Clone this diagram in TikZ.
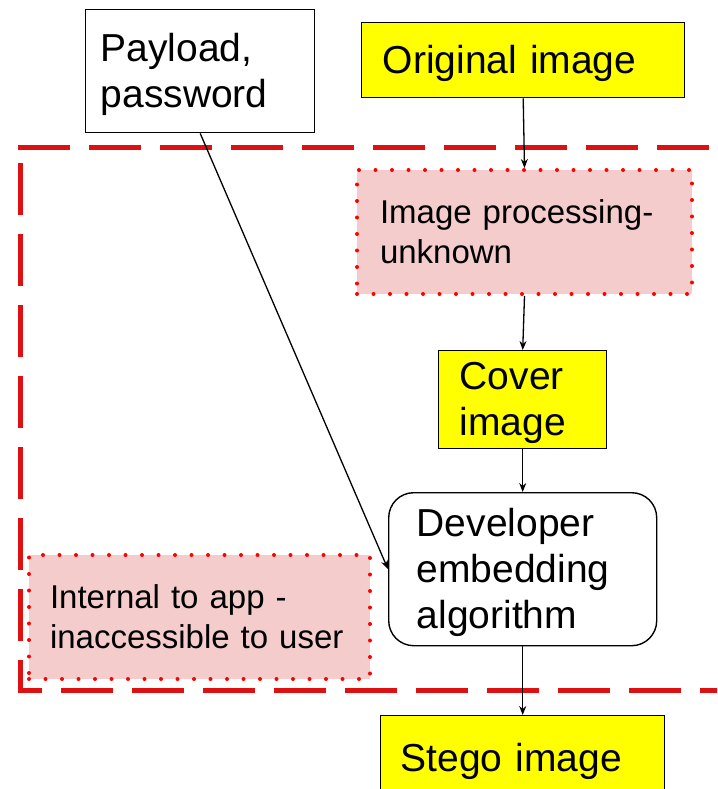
\documentclass[tikz,border=0pt]{standalone}
\usepackage{fontspec}
\setmainfont{Liberation Sans}
\usetikzlibrary{arrows.meta}
\definecolor{ylw}{HTML}{FFFF00}
\definecolor{pinkfill}{HTML}{F4CCCC}
\definecolor{framered}{HTML}{DD1111}
\tikzset{
 bigtext/.style={font=\fontsize{39}{46}\selectfont, execute at end node={\vspace*{-7pt}}},
 smalltext/.style={font=\fontsize{33}{40}\selectfont},
 plainbox/.style={draw=black, line width=1.4pt, anchor=north west, align=left, inner ysep=0pt},
 yellowbox/.style={plainbox, fill=ylw},
 pinkbox/.style={anchor=north west, align=left, inner ysep=0pt, fill=pinkfill, draw=red, line width=4pt, dash pattern=on 0pt off 16.5pt, line cap=round},
 arr/.style={-{Stealth[length=9pt,width=7pt]}, line width=1.3pt},
 framestyle/.style={framered, line width=5pt, dash pattern=on 52pt off 19pt}
}
\begin{document}
\begin{tikzpicture}[x=1pt,y=-1pt]
\useasboundingbox (0,0) rectangle (717,789);
\clip (0,0) rectangle (717,789);
\draw[framestyle] (18,147) -- (760,147);
\draw[framestyle, dash phase=55pt] (20,147) -- (20,690) -- (760,690);
\node[plainbox, bigtext, text width=199pt, inner xsep=15pt, minimum height=123pt] (pay) at (85,9) {Payload,\\password};
\node[yellowbox, bigtext, text width=281pt, inner xsep=21pt, minimum height=75pt] (orig) at (361,22) {Original image};
\node[pinkbox, smalltext, text width=289pt, inner xsep=23pt, minimum height=124pt] (proc) at (355,168) {Image processing-\\unknown};
\node[yellowbox, bigtext, text width=126pt, inner xsep=21pt, minimum height=98pt] (cover) at (438,350) {Cover\\image};
\node[plainbox, bigtext, rounded corners=25pt, text width=212pt, inner xsep=28pt, minimum height=153pt] (dev) at (388,492) {Developer\\embedding\\algorithm};
\node[pinkbox, smalltext, text width=299pt, inner xsep=21pt, minimum height=124pt] (int) at (27,553) {Internal to app -\\inaccessible to user};
\node[yellowbox, bigtext, text width=244pt, inner xsep=20pt, minimum height=84pt] (stego) at (380,715) {Stego image};
\draw[arr] (orig.south) -- (proc.north);
\draw[arr] (proc.south) -- (cover.north);
\draw[arr] (cover.south) -- (dev.north);
\draw[arr] (dev.south) -- (stego.north);
\draw[arr] (pay.south) -- (dev.west);
\end{tikzpicture}
\end{document}
